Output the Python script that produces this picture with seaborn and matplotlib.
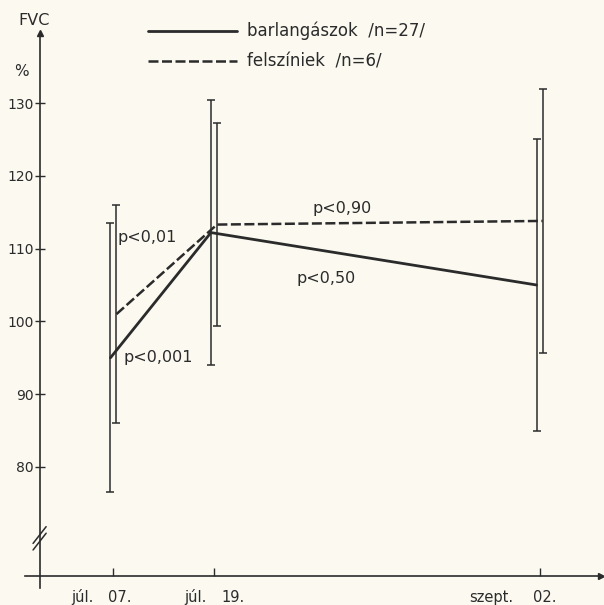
import numpy as np
import matplotlib
matplotlib.use("Agg")
import matplotlib.pyplot as plt
import seaborn as sns

# FVC (%) at three dates, mean and SD
months = ['júl.', 'júl.', 'szept.']
days = ['07.', '19.', '02.']
x_pos = [0, 1, 4.24]

barl_label = 'barlangászok  /n=27/'
barl_mean = [95.0, 112.2, 105.0]
barl_sd = [18.45, 18.2, 20.0]

fels_label = 'felszíniek  /n=6/'
fels_mean = [101.0, 113.3, 113.8]
fels_sd = [15.0, 14.0, 18.1]

p_labels = ['p<0,01', 'p<0,001', 'p<0,90', 'p<0,50']
y_ticks = [80, 90, 100, 110, 120, 130]

ink = '#2b2b2b'
paper = '#fbf9f0'

sns.set_theme(style='white')
plt.rcParams['font.family'] = ['DejaVu Sans']
plt.rcParams['text.color'] = ink

fig = plt.figure(figsize=(6.04, 6.05), dpi=100, facecolor=paper)
ax = fig.add_axes([0, 0, 1, 1], facecolor=paper)
ax.set_xlim(-1.129, 4.881)
ax.set_ylim(61.04, 144.15)

off = 0.03
xb = np.array(x_pos) - off
xf = np.array(x_pos) + off

# means
sns.lineplot(x=xb, y=barl_mean, ax=ax, color=ink, lw=2.0, label=barl_label,
             sort=False)
sns.lineplot(x=xf, y=fels_mean, ax=ax, color=ink, lw=1.8, label=fels_label,
             linestyle=(0, (4, 1.4)), sort=False)

# SD bars
ax.errorbar(xb, barl_mean, yerr=barl_sd, fmt='none', ecolor=ink, elinewidth=1.1,
            capsize=3, capthick=1.1)
ax.errorbar(xf, fels_mean, yerr=fels_sd, fmt='none', ecolor=ink, elinewidth=1.1,
            capsize=3, capthick=1.1)

# axes drawn like the hand-made figure
for s in ['top', 'right']:
    ax.spines[s].set_visible(False)
ax.spines['left'].set_position(('data', -0.731))
ax.spines['bottom'].set_position(('data', 65))
ax.spines['left'].set_bounds(63.4, 139.0)
ax.spines['bottom'].set_bounds(-0.88, 4.84)
for s in ['left', 'bottom']:
    ax.spines[s].set_color(ink)
    ax.spines[s].set_linewidth(1.2)
ax.plot([-0.731], [139.6], marker='^', ms=5, color=ink, clip_on=False)
ax.plot([4.85], [65], marker='>', ms=5, color=ink, clip_on=False)

ax.set_yticks(y_ticks)
ax.set_yticklabels([str(v) for v in y_ticks])
ax.tick_params(axis='y', direction='inout', length=7, width=1, colors=ink,
               labelsize=10, pad=1, left=True)
ax.set_xticks(x_pos)
ax.set_xticklabels([])
ax.tick_params(axis='x', direction='in', length=6, width=1, colors=ink,
               bottom=True)
ax.grid(False)

# axis break
ax.plot([-0.80, -0.67], [68.6, 70.9], color=ink, lw=1.1)
ax.plot([-0.80, -0.67], [69.5, 71.8], color=ink, lw=1.1)

# x labels split around the tick
month_off = [-20, -7, -26]
day_off = [-5, 7, -7]
for x, m, d, mo, do in zip(x_pos, months, days, month_off, day_off):
    ax.annotate(m, (x, 62.1), xytext=(mo * 0.72, 0), textcoords='offset points',
                ha='right', va='center', fontsize=10.5, color=ink)
    ax.annotate(d, (x, 62.1), xytext=(do * 0.72, 0), textcoords='offset points',
                ha='left', va='center', fontsize=10.5, color=ink)

# axis title
ax.text(-0.95, 141.4, 'FVC', fontsize=11.5, ha='left', va='center', color=ink)
ax.text(-0.99, 134.3, '%', fontsize=11, ha='left', va='center', color=ink)

# p values
p_pos = [(0.045, 111.46), (0.095, 95.1), (1.985, 115.45), (1.826, 105.96)]
for t, (x, y) in zip(p_labels, p_pos):
    ax.text(x, y, t, fontsize=11.5, ha='left', va='center', color=ink)

ax.legend(loc='upper left', bbox_to_anchor=(148 / 604, 1 - 22 / 605),
          bbox_transform=fig.transFigure, frameon=False, fontsize=12,
          handlelength=5.35, handletextpad=0.6, labelspacing=0.75,
          borderpad=0, borderaxespad=0)

fig.savefig('out.png', dpi=100, facecolor=paper)
